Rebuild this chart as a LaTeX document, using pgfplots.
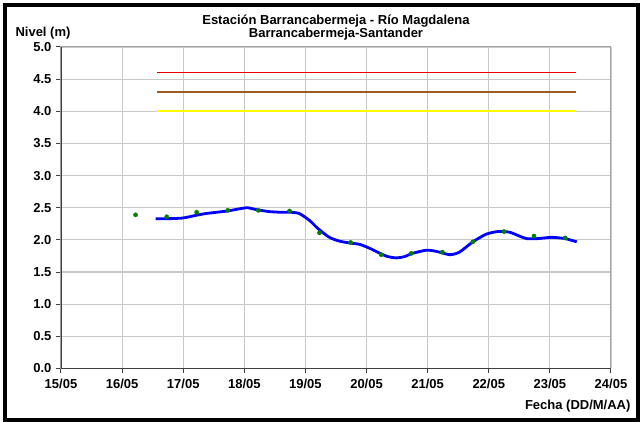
\documentclass[border=0pt]{standalone}
\usepackage{fontspec}
\setmainfont{Liberation Sans}
\usepackage{pgfplots}
\pgfplotsset{compat=1.18}

\definecolor{nivelblue}{RGB}{0,0,255}
\definecolor{obsgreen}{RGB}{0,128,0}
\definecolor{alertred}{RGB}{230,0,0}
\definecolor{alertbrown}{RGB}{160,90,40}
\definecolor{alertyellow}{RGB}{255,255,0}
\definecolor{gridgray}{RGB}{200,200,200}

\newcommand{\lbl}{\fontsize{13}{13.5}\selectfont\bfseries}

\begin{document}
\begin{tikzpicture}
\path[use as bounding box] (0,0) rectangle (640pt,422pt);
\begin{axis}[
    at={(61pt,53.5pt)}, anchor=south west,
    scale only axis,
    width=550pt, height=321.5pt,
    xmin=0, xmax=9, ymin=0, ymax=5,
    xtick={0,...,9},
    xticklabels={15/05,16/05,17/05,18/05,19/05,20/05,21/05,22/05,23/05,24/05},
    ytick={0,0.5,...,5},
    yticklabel style={/pgf/number format/fixed, /pgf/number format/fixed zerofill,
        /pgf/number format/precision=1, /pgf/number format/assume math mode=true,
        xshift=-1pt},
    tick label style={font=\lbl},
    xtick pos=bottom, ytick pos=left,
    tick align=outside,
    major tick length=5pt,
    tick style={black!75, line width=1pt},
    grid=major,
    grid style={gridgray, line width=1.2pt},
    axis line style={gray!70, line width=1pt},
    xticklabel style={yshift=-2pt},
]
% umbrales
\addplot[alertred, line width=1.3pt] coordinates {(1.57,4.6) (8.43,4.6)};
\addplot[alertbrown, line width=1.3pt] coordinates {(1.57,4.3) (8.43,4.3)};
\addplot[alertyellow, line width=1.8pt] coordinates {(1.57,4.0) (8.43,4.0)};
% nivel continuo
\addplot[nivelblue, line width=2.8pt, smooth, tension=0.4] coordinates {
    (1.55,2.33) (1.75,2.33) (1.99,2.34) (2.20,2.38) (2.37,2.41)
    (2.55,2.43) (2.73,2.45) (2.90,2.48) (3.05,2.50) (3.20,2.47)
    (3.41,2.44) (3.60,2.43) (3.75,2.43) (3.90,2.41) (4.07,2.30)
    (4.20,2.18) (4.39,2.04) (4.56,1.98) (4.74,1.95) (4.89,1.93)
    (5.05,1.87) (5.22,1.79) (5.35,1.74) (5.49,1.72) (5.62,1.74)
    (5.75,1.79) (5.98,1.84) (6.15,1.82) (6.36,1.77) (6.52,1.81)
    (6.74,1.97) (6.96,2.09) (7.15,2.13) (7.34,2.12) (7.50,2.06)
    (7.62,2.02) (7.80,2.02) (8.03,2.04) (8.25,2.02) (8.44,1.97)
};
% lecturas
\addplot[only marks, mark=*, mark size=2.1pt, obsgreen] coordinates {
    (1.22,2.39) (1.73,2.36) (2.22,2.43) (2.73,2.46) (3.23,2.46)
    (3.74,2.45) (4.23,2.11) (4.74,1.96) (5.24,1.77) (5.73,1.79)
    (6.24,1.81) (6.74,1.97) (7.25,2.13) (7.74,2.06) (8.25,2.03)
};
\draw[black!75, line width=1.5pt] (axis cs:0,5) -- (axis cs:0,0) -- (axis cs:9,0);
\end{axis}
\node[align=center, font=\lbl] at (336pt,394.5pt) {Estación Barrancabermeja - Río Magdalena\\Barrancabermeja-Santander};
\node[anchor=west, font=\lbl] at (12pt,389pt) {Nivel (m)};
\node[anchor=east, font=\lbl] at (634pt,16pt) {Fecha (DD/M/AA)};
\draw[line width=4.5pt] (5.2pt,2.2pt) rectangle (637.8pt,417pt);
\end{tikzpicture}
\end{document}
